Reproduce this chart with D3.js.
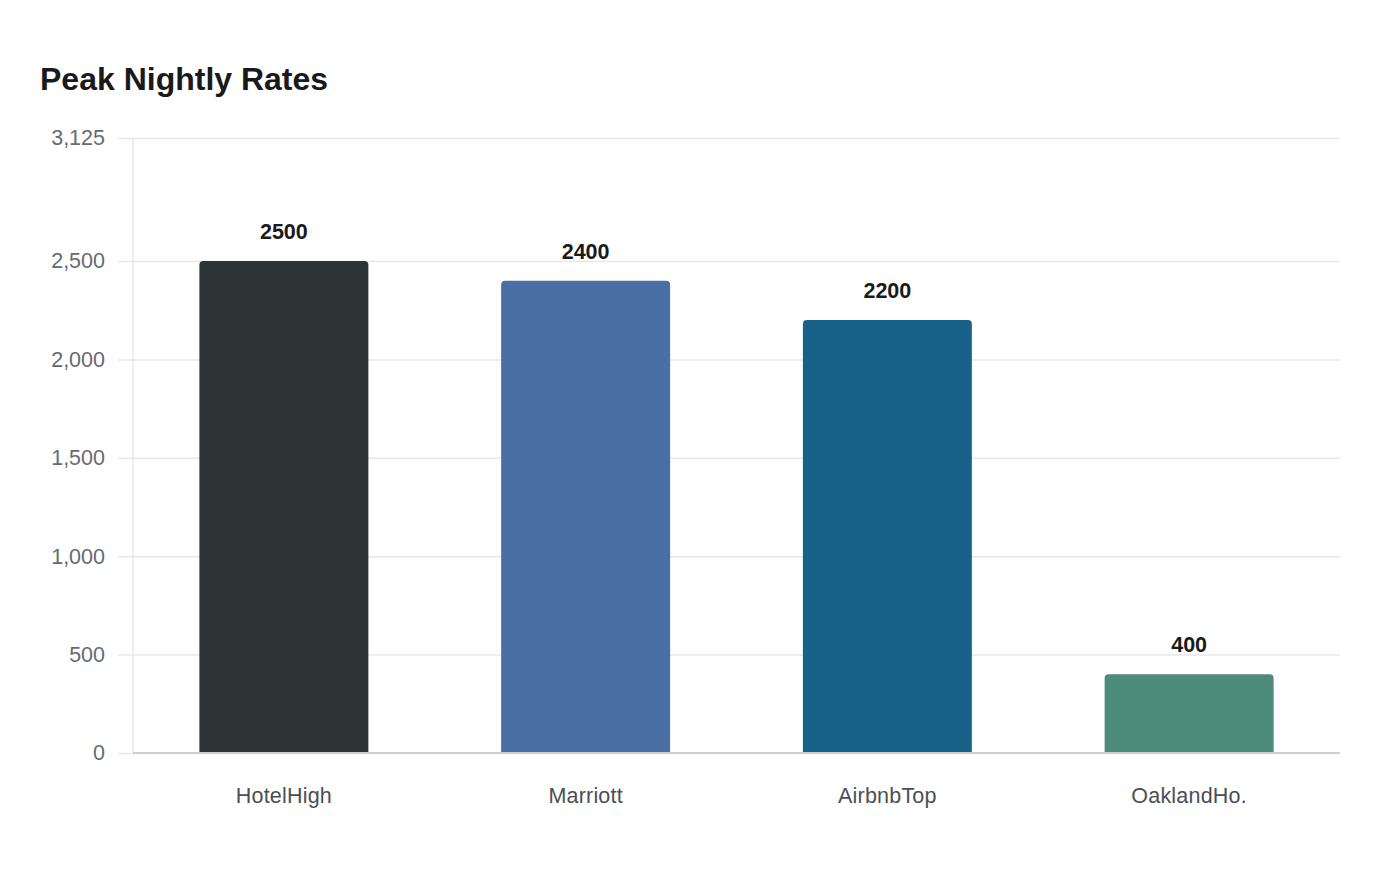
<!DOCTYPE html>
<html>
<head>
<meta charset="utf-8">
<script src="https://cdn.jsdelivr.net/npm/d3@7"></script>
<style>
  body { margin: 0; background: #fff; font-family: "Liberation Sans", Arial, sans-serif; }
</style>
</head>
<body>
<svg id="chart" width="1400" height="880"></svg>
<script>
const categories = ["HotelHigh", "Marriott", "AirbnbTop", "OaklandHo."];
const values = [2500, 2400, 2200, 400];
const barColors = ["#2d3436", "#4a6fa5", "#186289", "#4e8c7a"];
const yTicks = [0, 500, 1000, 1500, 2000, 2500, 3125];
const yMax = 3125;

const width = 1400,
      height = 880,
      margin = { top: 138, right: 60, bottom: 127, left: 133 },
      svg = d3.select("#chart");

const x = d3.scaleBand()
  .domain(categories)
  .range([margin.left, width - margin.right])
  .paddingInner(0.44)
  .paddingOuter(0.22);

const y = d3.scaleLinear()
  .domain([0, yMax])
  .range([height - margin.bottom, margin.top]);

// title
svg.append("text")
  .attr("x", 40)
  .attr("y", 90)
  .attr("font-size", 32)
  .attr("font-weight", "bold")
  .attr("fill", "#1a1a1a")
  .text("Peak Nightly Rates");

// grid + y axis labels
const yAxis = d3.axisLeft(y)
  .tickValues(yTicks)
  .tickSize(-(width - margin.right - margin.left + 15))
  .tickPadding(13)
  .tickFormat(d3.format(","));

const gy = svg.append("g")
  .attr("transform", `translate(${margin.left - 15},0)`)
  .call(yAxis);
gy.select(".domain").remove();
gy.selectAll(".tick line").attr("stroke", "#e8e8e8").attr("stroke-width", 1.5);
gy.selectAll(".tick text")
  .attr("font-size", 21.5)
  .attr("fill", "#666b70")
  .attr("font-family", "Liberation Sans, Arial, sans-serif");

// vertical axis line
svg.append("line")
  .attr("x1", margin.left).attr("x2", margin.left)
  .attr("y1", margin.top).attr("y2", height - margin.bottom)
  .attr("stroke", "#e0e0e0");

// bars with rounded tops
const r = 4;
function barPath(d, i) {
  const x0 = x(categories[i]), w = x.bandwidth();
  const y0 = y(d), y1 = y(0) - 1;
  return `M${x0},${y1} V${y0 + r} Q${x0},${y0} ${x0 + r},${y0} H${x0 + w - r} Q${x0 + w},${y0} ${x0 + w},${y0 + r} V${y1} Z`;
}

svg.append("g")
  .selectAll("path")
  .data(values)
  .join("path")
    .attr("d", barPath)
    .attr("fill", (_, i) => barColors[i]);

// baseline
svg.append("line")
  .attr("x1", margin.left).attr("x2", width - margin.right)
  .attr("y1", y(0)).attr("y2", y(0))
  .attr("stroke", "#cfcfcf")
  .attr("stroke-width", 2);

// value labels
svg.append("g")
  .selectAll("text")
  .data(values)
  .join("text")
    .attr("x", (_, i) => x(categories[i]) + x.bandwidth() / 2)
    .attr("y", d => y(d) - 22)
    .attr("text-anchor", "middle")
    .attr("font-size", 21.5)
    .attr("font-weight", "bold")
    .attr("fill", "#1a1a1a")
    .text(d => d);

// category labels
svg.append("g")
  .selectAll("text")
  .data(categories)
  .join("text")
    .attr("x", d => x(d) + x.bandwidth() / 2)
    .attr("y", y(0) + 50)
    .attr("text-anchor", "middle")
    .attr("font-size", 21.5)
    .attr("letter-spacing", 0.2)
    .attr("fill", "#4a4f55")
    .text(d => d);
</script>
</body>
</html>
